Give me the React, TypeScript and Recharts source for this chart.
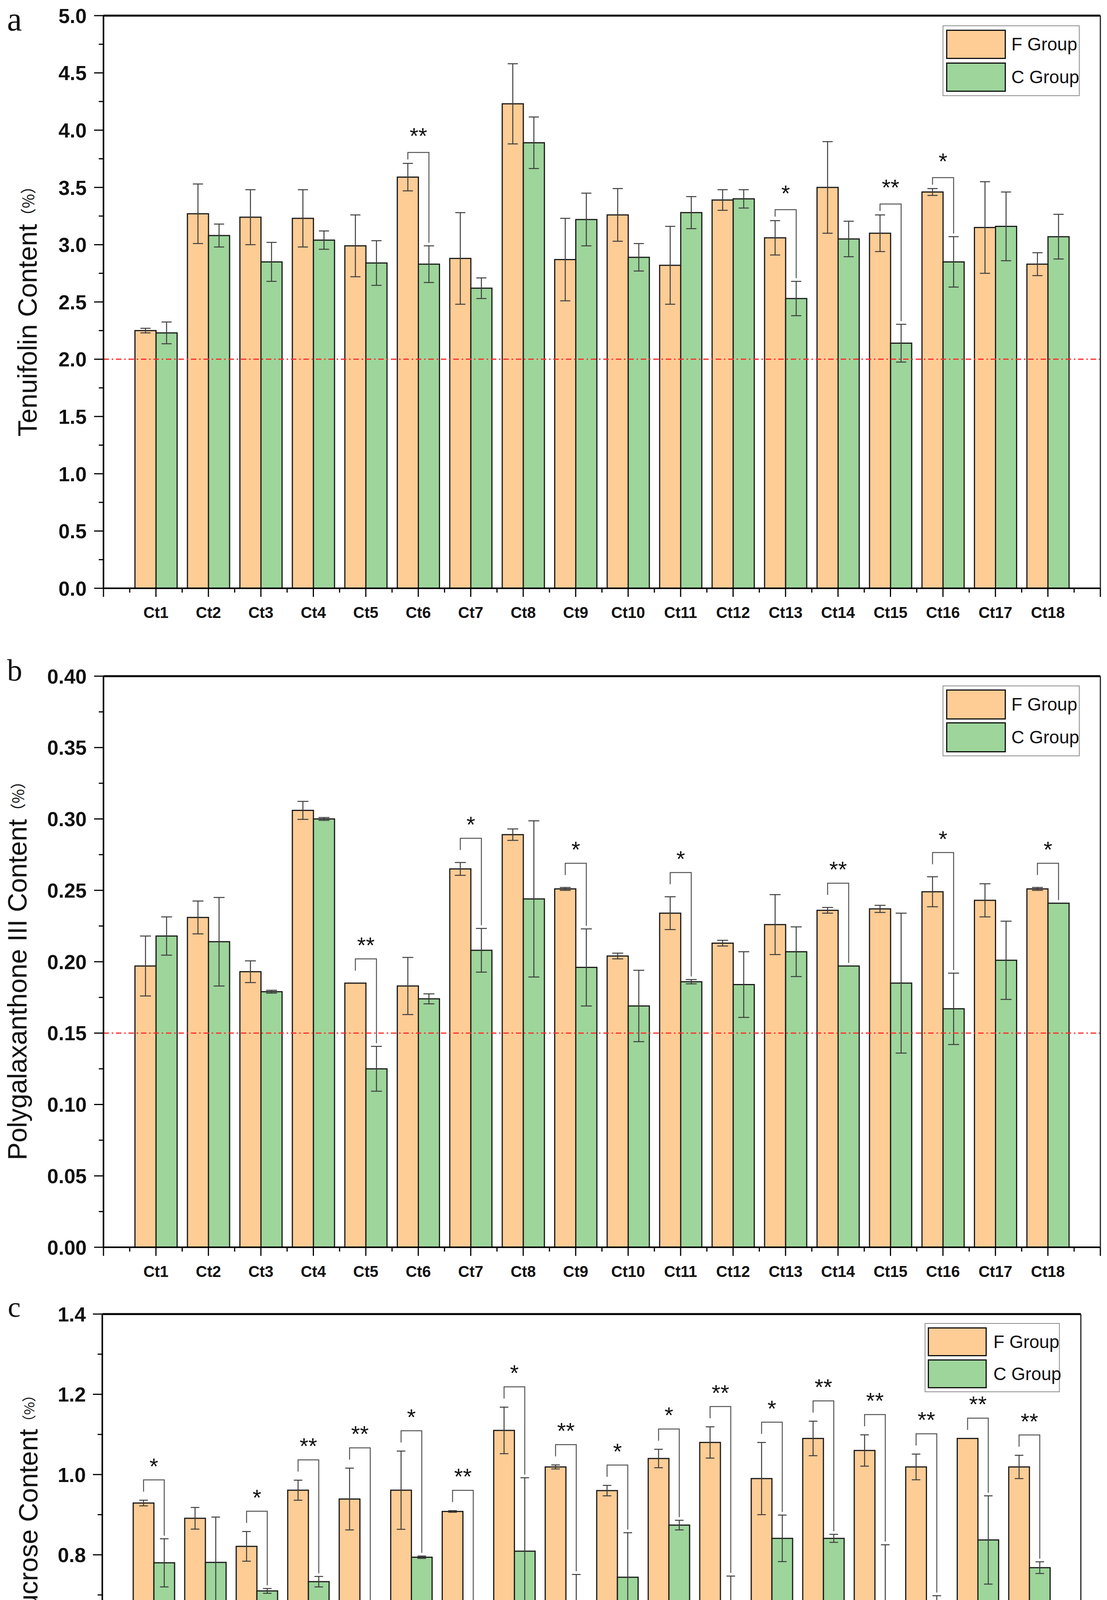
import React from 'react'
import { BarChart, Bar, XAxis, YAxis, ErrorBar, ReferenceLine, Legend } from 'recharts'

const PAGE_W = 2835
const PAGE_H = 6469

const ORANGE = '#FECC95'
const GREEN = '#9DD59B'
const PURPLE = '#C5B3D7'
const YELLOW = '#FFFC9E'
const EDGE = '#1a1a1a'
const ERR = '#3c3c3c'
const RED = '#FF2A2A'
const SANS = '"Liberation Sans", Arial, sans-serif'
const SERIF = '"Liberation Serif", "Times New Roman", serif'
const CJK = '"Noto Sans CJK SC", sans-serif'

const categories = ['Ct1', 'Ct2', 'Ct3', 'Ct4', 'Ct5', 'Ct6', 'Ct7', 'Ct8', 'Ct9', 'Ct10', 'Ct11', 'Ct12', 'Ct13', 'Ct14', 'Ct15', 'Ct16', 'Ct17', 'Ct18']

// a: Tenuifolin
const tenF = [2.25, 3.27, 3.24, 3.23, 2.99, 3.59, 2.88, 4.23, 2.87, 3.26, 2.82, 3.39, 3.06, 3.5, 3.1, 3.46, 3.15, 2.83]
const tenFErr = [0.02, 0.26, 0.24, 0.25, 0.27, 0.12, 0.4, 0.35, 0.36, 0.23, 0.34, 0.09, 0.15, 0.4, 0.16, 0.03, 0.4, 0.1]
const tenC = [2.23, 3.08, 2.85, 3.04, 2.84, 2.83, 2.62, 3.89, 3.22, 2.89, 3.28, 3.4, 2.53, 3.05, 2.14, 2.85, 3.16, 3.07]
const tenCErr = [0.095, 0.1, 0.17, 0.08, 0.195, 0.16, 0.09, 0.225, 0.23, 0.12, 0.14, 0.08, 0.15, 0.155, 0.165, 0.22, 0.3, 0.195]
const tenSig = ['', '', '', '', '', '**', '', '', '', '', '', '', '*', '', '**', '*', '', '']

// b: Polygalaxanthone III
const pgF = [0.197, 0.231, 0.193, 0.306, 0.185, 0.183, 0.265, 0.289, 0.251, 0.204, 0.234, 0.213, 0.226, 0.236, 0.237, 0.249, 0.243, 0.251]
const pgFErr = [0.021, 0.0115, 0.0076, 0.0063, 0, 0.02, 0.0045, 0.004, 0.001, 0.002, 0.0115, 0.002, 0.021, 0.002, 0.0025, 0.0105, 0.0116, 0.001]
const pgC = [0.218, 0.214, 0.179, 0.3, 0.125, 0.174, 0.208, 0.244, 0.196, 0.169, 0.186, 0.184, 0.207, 0.197, 0.185, 0.167, 0.201, 0.241]
const pgCErr = [0.0134, 0.031, 0.001, 0.001, 0.0157, 0.0035, 0.0153, 0.0547, 0.027, 0.025, 0.0015, 0.023, 0.0174, 0, 0.049, 0.025, 0.0274, 0]
const pgSig = ['', '', '', '', '**', '', '*', '', '*', '', '*', '', '', '**', '', '*', '', '*']

// c: 3,6-Disinapoyl sucrose
const dsF = [0.929, 0.891, 0.821, 0.961, 0.939, 0.961, 0.908, 1.11, 1.019, 0.96, 1.04, 1.08, 0.99, 1.09, 1.06, 1.019, 1.09, 1.019]
const dsFErr = [0.007, 0.027, 0.037, 0.025, 0.077, 0.0975, 0.002, 0.058, 0.005, 0.013, 0.023, 0.039, 0.09, 0.043, 0.039, 0.032, 0, 0.029]
const dsC = [0.78, 0.781, 0.71, 0.733, 0.4845, 0.794, 0.62, 0.809, 0.669, 0.744, 0.874, 0.661, 0.841, 0.841, 0.657, 0.606, 0.837, 0.768]
const dsCErr = [0.06, 0.113, 0.006, 0.013, 0.069, 0.003, 0.051, 0.183, 0.082, 0.111, 0.012, 0.086, 0.058, 0.01, 0.168, 0.092, 0.11, 0.0146]
const dsSig = ['*', '', '*', '**', '**', '*', '**', '*', '**', '*', '*', '**', '*', '**', '**', '**', '**', '**']

// d: rehydration / re-dry
const dCats = ['Ct5', 'Ct12']
const dF = [1.3, 1.373]
const dFErr = [0.006, 0.058]
const dReh = [0.94, 1.045]
const dRehErr = [0.032, 0.015]
const d37 = [1.061, 1.031]
const d37Err = [0.075, 0.02]
const d55 = [0.971, 0.945]
const d55Err = [0.044, 0.05]
const dFLetter = ['a', 'a']
const dRehLetter = ['b', 'b']
const d37Letter = ['b', 'b']
const d55Letter = ['b', 'b']

const yTicksA = [0, 0.25, 0.5, 0.75, 1, 1.25, 1.5, 1.75, 2, 2.25, 2.5, 2.75, 3, 3.25, 3.5, 3.75, 4, 4.25, 4.5, 4.75, 5]
const yTicksB = [0, 0.025, 0.05, 0.075, 0.1, 0.125, 0.15, 0.175, 0.2, 0.225, 0.25, 0.275, 0.3, 0.325, 0.35, 0.375, 0.4]
const yTicksC = [0, 0.1, 0.2, 0.3, 0.4, 0.5, 0.6, 0.7, 0.8, 0.9, 1, 1.1, 1.2, 1.3, 1.4]
const yTicksD = [0, 0.25, 0.5, 0.75, 1, 1.25, 1.5, 1.75, 2]

const rowsA = categories.map((name, i) => ({ name, f: tenF[i], fe: tenFErr[i], c: tenC[i], ce: tenCErr[i], sig: tenSig[i] }))
const rowsB = categories.map((name, i) => ({ name, f: pgF[i], fe: pgFErr[i], c: pgC[i], ce: pgCErr[i], sig: pgSig[i] }))
const rowsC = categories.map((name, i) => ({ name, f: dsF[i], fe: dsFErr[i], c: dsC[i], ce: dsCErr[i], sig: dsSig[i] }))
const rowsD = dCats.map((name, i) => ({
  name,
  f: dF[i], fe: dFErr[i], fl: dFLetter[i],
  r: dReh[i], re: dRehErr[i], rl: dRehLetter[i],
  p: d37[i], pe: d37Err[i], pl: d37Letter[i],
  y: d55[i], ye: d55Err[i], yl: d55Letter[i],
}))

// ---- ticks ----
function XTick(props: any) {
  const { x, y, payload, index, band, n, mode, font, dy } = props
  const half = band / 2
  const marks: [number, number][] = [[x, 22]]
  if (mode === 'padded') {
    marks.push([x - half, 11])
    if (index === 0) marks.push([x - band, 22])
    if (index === n - 1) {
      marks.push([x + half, 11])
      marks.push([x + band, 22])
    }
  } else {
    if (index > 0) marks.push([x - half, 11])
    if (index === 0) marks.push([x - half, 22])
    if (index === n - 1) marks.push([x + half, 22])
  }
  return (
    <g>
      {marks.map(([mx, len], i) => (
        <line key={i} x1={mx} y1={y} x2={mx} y2={y + len} stroke="#000" strokeWidth={3} />
      ))}
      <text x={x} y={y + dy} textAnchor="middle" fontFamily={SANS} fontWeight="bold" fontSize={font} fill="#111">
        {payload.value}
      </text>
    </g>
  )
}

function YTick(props: any) {
  const { x, y, payload, step, decimals, font, gap } = props
  const v = payload.value
  const major = Math.abs(v / step - Math.round(v / step)) < 1e-6
  return (
    <g>
      <line x1={x} y1={y} x2={x - (major ? 24 : 12)} y2={y} stroke="#000" strokeWidth={3} />
      {major && (
        <text x={x - gap} y={y + font * 0.36} textAnchor="end" fontFamily={SANS} fontWeight="bold" fontSize={font} fill="#111">
          {v.toFixed(decimals)}
        </text>
      )}
    </g>
  )
}

// ---- bar shapes ----
// F bar that also draws the significance bracket over its C neighbour
function sigShape(gap: number, starDy: number) {
  return (props: any) => {
    const { x, y, width, height, payload } = props
    const bar = <rect x={x} y={y} width={width} height={height} fill={ORANGE} stroke={EDGE} strokeWidth={3} />
    if (!payload || !payload.sig || !height) return bar
    const unit = height / payload.f
    const base = y + height
    const fTop = base - (payload.f + payload.fe) * unit
    const cTop = base - (payload.c + payload.ce) * unit
    const by = Math.min(fTop, cTop) - gap
    const x1 = x + width / 2
    const x2 = x + width * 1.5
    const leftEnd = Math.min(by + 30, fTop - 10)
    const rightEnd = cTop - 8
    return (
      <g>
        {bar}
        <path d={`M${x1},${leftEnd}V${by}H${x2}V${rightEnd}`} fill="none" stroke="#555" strokeWidth={2.5} />
        <text x={(x1 + x2) / 2} y={by - starDy} textAnchor="middle" fontFamily={SANS} fontSize={58} fill="#111">
          {payload.sig}
        </text>
      </g>
    )
  }
}

function letterShape(fill: string, valKey: string, errKey: string, letKey: string) {
  return (props: any) => {
    const { x, y, width, height, payload } = props
    const bar = <rect x={x} y={y} width={width} height={height} fill={fill} stroke={EDGE} strokeWidth={3} />
    if (!payload || !height) return bar
    const unit = height / payload[valKey]
    const top = y - payload[errKey] * unit
    return (
      <g>
        {bar}
        <text x={x + width / 2} y={top - 60} textAnchor="middle" fontFamily={SANS} fontSize={60} fill="#111">
          {payload[letKey]}
        </text>
      </g>
    )
  }
}

// ---- legend ----
type LegendCfg = { l: number; t: number; w: number; h: number; padX: number; padY: number; sw: number; sh: number; step: number; textX: number; font: number; openRight?: boolean }

function LegendBox({ cfg, items }: { cfg: LegendCfg; items: { name: string; color: string }[] }) {
  const border = '2px solid #8c8c8c'
  return (
    <div style={{ position: 'relative', width: cfg.w, height: cfg.h, border, borderRight: cfg.openRight ? 'none' : border, boxSizing: 'border-box', background: '#fff' }}>
      {items.map((it, i) => (
        <React.Fragment key={it.name}>
          <div style={{ position: 'absolute', left: cfg.padX, top: cfg.padY + i * cfg.step, width: cfg.sw, height: cfg.sh, background: it.color, border: '3px solid #111', boxSizing: 'border-box' }} />
          <div style={{ position: 'absolute', left: cfg.textX, top: cfg.padY + i * cfg.step, height: cfg.sh, lineHeight: cfg.sh + 'px', fontFamily: SANS, fontSize: cfg.font, color: '#111', whiteSpace: 'nowrap' }}>
            {it.name}
          </div>
        </React.Fragment>
      ))}
    </div>
  )
}

// ---- panel ----
type Series = { key: string; err: string; name: string; fill: string; shape?: any }

type PanelProps = {
  rows: any[]
  series: Series[]
  chartTop: number
  chartH: number
  plot: { l: number; r: number; t: number; b: number }
  domain: [number, number]
  yTicks: number[]
  step: number
  decimals: number
  tickFont: number
  labelGap: number
  xFont: number
  xDy: number
  mode: 'padded' | 'flush'
  catGap: string
  capW: number
  refY?: number
  legend: LegendCfg
}

function Panel(p: PanelProps) {
  const W = p.plot.r - p.plot.l
  const n = p.rows.length
  const band = p.mode === 'padded' ? W / (n + 1) : W / n
  const pad = p.mode === 'padded' ? band / 2 : 0
  const items = p.series.map((s) => ({ name: s.name, color: s.fill }))
  return (
    <div style={{ position: 'absolute', left: 0, top: p.chartTop, width: PAGE_W, height: p.chartH }}>
      <BarChart
        width={PAGE_W}
        height={p.chartH}
        data={p.rows}
        barCategoryGap={p.catGap}
        barGap={0}
        margin={{
          top: p.plot.t - p.chartTop - 1,
          bottom: p.chartTop + p.chartH - p.plot.b - 10,
          left: p.plot.l - 10,
          right: PAGE_W - p.plot.r - 1,
        }}
      >
        <XAxis
          dataKey="name"
          height={10}
          padding={{ left: pad, right: pad }}
          interval={0}
          tickSize={0}
          tickMargin={0}
          tickLine={false}
          axisLine={{ stroke: '#000', strokeWidth: 4 }}
          tick={(t: any) => <XTick {...t} band={band} n={n} mode={p.mode} font={p.xFont} dy={p.xDy} />}
        />
        <XAxis xAxisId="top" dataKey="name" orientation="top" height={1} tick={false} tickLine={false} axisLine={{ stroke: '#000', strokeWidth: 5 }} />
        <YAxis
          width={10}
          type="number"
          domain={p.domain}
          ticks={p.yTicks}
          interval={0}
          tickSize={0}
          tickMargin={0}
          tickLine={false}
          axisLine={{ stroke: '#000', strokeWidth: 4 }}
          tick={(t: any) => <YTick {...t} step={p.step} decimals={p.decimals} font={p.tickFont} gap={p.labelGap} />}
        />
        <YAxis yAxisId="right" orientation="right" width={1} domain={p.domain} tick={false} tickLine={false} axisLine={{ stroke: '#222', strokeWidth: 3 }} />
        {p.series.map((s) => (
          <Bar key={s.key} dataKey={s.key} name={s.name} fill={s.fill} stroke={EDGE} strokeWidth={3} isAnimationActive={false} shape={s.shape}>
            <ErrorBar dataKey={s.err} width={p.capW} stroke={ERR} strokeWidth={2.5} direction="y" />
          </Bar>
        ))}
        {p.refY !== undefined && (
          <ReferenceLine y={p.refY} stroke={RED} strokeWidth={3} strokeDasharray="14 7 4 7" ifOverflow="extendDomain" />
        )}
        <Legend
          layout="vertical"
          align="center"
          verticalAlign="middle"
          wrapperStyle={{ left: p.legend.l, top: p.legend.t - p.chartTop, width: p.legend.w, height: p.legend.h }}
          content={() => <LegendBox cfg={p.legend} items={items} />}
        />
      </BarChart>
    </div>
  )
}

// ---- titles ----
const titles = [
  { x: 70, y: 787, text: 'Tenuifolin Content', unit: '（%）', font: 68, unitFont: 40 },
  { x: 44, y: 2475, text: 'Polygalaxanthone III Content', unit: '（%）', font: 68, unitFont: 40 },
  { x: 72, y: 4078, text: '3,6-Disinapoyl sucrose Content', unit: '（%）', font: 68, unitFont: 36 },
  { x: 50, y: 5690, text: '3, 6-Disinapoyl sucrose Content', unit: '（%）', font: 72, unitFont: 54 },
]
const panelLetters = [
  { x: 18, y: 78, text: 'a', font: 86 },
  { x: 18, y: 1742, text: 'b', font: 78 },
  { x: 20, y: 3371, text: 'c', font: 74 },
  { x: 12, y: 4995, text: 'd', font: 76 },
]

export default function App() {
  const twoSeries = (gap: number, starDy: number): Series[] => [
    { key: 'f', err: 'fe', name: 'F Group', fill: ORANGE, shape: sigShape(gap, starDy) },
    { key: 'c', err: 'ce', name: 'C Group', fill: GREEN },
  ]
  const fourSeries: Series[] = [
    { key: 'f', err: 'fe', name: 'F Group', fill: ORANGE, shape: letterShape(ORANGE, 'f', 'fe', 'fl') },
    { key: 'r', err: 're', name: 'Rehydration', fill: GREEN, shape: letterShape(GREEN, 'r', 're', 'rl') },
    { key: 'p', err: 'pe', name: 'Re-dry 37℃', fill: PURPLE, shape: letterShape(PURPLE, 'p', 'pe', 'pl') },
    { key: 'y', err: 'ye', name: 'Re-dry 55℃', fill: YELLOW, shape: letterShape(YELLOW, 'y', 'ye', 'yl') },
  ]

  return (
    <div style={{ position: 'absolute', left: 0, top: 0, width: PAGE_W, height: PAGE_H, background: '#fff', overflow: 'hidden' }}>
      <Panel
        rows={rowsA}
        series={twoSeries(28, 22)}
        chartTop={0}
        chartH={1640}
        plot={{ l: 265, r: 2818, t: 40, b: 1506 }}
        domain={[0, 5]}
        yTicks={yTicksA}
        step={0.5}
        decimals={1}
        tickFont={52}
        labelGap={43}
        xFont={40}
        xDy={76}
        mode="padded"
        catGap="10%"
        capW={13}
        refY={2}
        legend={{ l: 2414, t: 65, w: 351, h: 181, padX: 7, padY: 9, sw: 153, sh: 75, step: 84, textX: 174, font: 46 }}
      />
      <Panel
        rows={rowsB}
        series={twoSeries(62, 15)}
        chartTop={1660}
        chartH={1640}
        plot={{ l: 265, r: 2818, t: 1731, b: 3193 }}
        domain={[0, 0.4]}
        yTicks={yTicksB}
        step={0.05}
        decimals={2}
        tickFont={52}
        labelGap={43}
        xFont={40}
        xDy={76}
        mode="padded"
        catGap="10%"
        capW={14}
        refY={0.15}
        legend={{ l: 2414, t: 1755, w: 351, h: 181, padX: 7, padY: 8, sw: 153, sh: 77, step: 84, textX: 174, font: 46 }}
      />
      <Panel
        rows={rowsC}
        series={twoSeries(52, 15)}
        chartTop={3310}
        chartH={1610}
        plot={{ l: 262, r: 2768, t: 3364, b: 4802 }}
        domain={[0, 1.4]}
        yTicks={yTicksC}
        step={0.2}
        decimals={1}
        tickFont={52}
        labelGap={42}
        xFont={40}
        xDy={76}
        mode="padded"
        catGap="10%"
        capW={11}
        refY={0.5}
        legend={{ l: 2368, t: 3387, w: 346, h: 177, padX: 6, padY: 9, sw: 151, sh: 74, step: 82, textX: 174, font: 46 }}
      />
      <Panel
        rows={rowsD}
        series={fourSeries}
        chartTop={4930}
        chartH={1539}
        plot={{ l: 262, r: 2830, t: 4983, b: 6386 }}
        domain={[0, 2]}
        yTicks={yTicksD}
        step={0.5}
        decimals={1}
        tickFont={54}
        labelGap={49}
        xFont={48}
        xDy={81}
        mode="flush"
        catGap="20%"
        capW={16}
        legend={{ l: 2226, t: 5016, w: 455, h: 318, padX: 9, padY: 7, sw: 134, sh: 69, step: 77.5, textX: 161, font: 52, openRight: true }}
      />
      <svg width={PAGE_W} height={PAGE_H} style={{ position: 'absolute', left: 0, top: 0, pointerEvents: 'none' }}>
        {titles.map((t) => (
          <text key={t.text} transform={`translate(${t.x},${t.y}) rotate(-90)`} textAnchor="middle" dominantBaseline="central" fontFamily={SANS} fontSize={t.font} fill="#111">
            {t.text}
            <tspan fontFamily={CJK} fontSize={t.unitFont}>{t.unit}</tspan>
          </text>
        ))}
        {panelLetters.map((l) => (
          <text key={l.text} x={l.x} y={l.y} fontFamily={SERIF} fontSize={l.font} fill="#111">
            {l.text}
          </text>
        ))}
      </svg>
    </div>
  )
}
